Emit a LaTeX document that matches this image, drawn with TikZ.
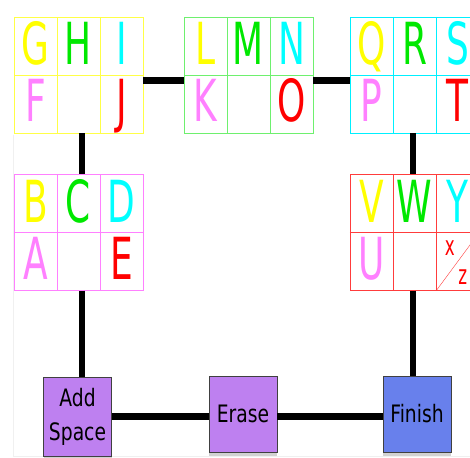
\documentclass[tikz,border=0pt]{standalone}
\usepackage{fontspec}
\newfontfamily\keyfont[FakeStretch=0.62]{DejaVu Sans}
\newfontfamily\labelfont[FakeStretch=0.78]{DejaVu Sans}
\usetikzlibrary{calc, shadows}
\definecolor{keyyellow}{RGB}{255,255,0}
\definecolor{keygreen}{RGB}{0,232,0}
\definecolor{keycyan}{RGB}{0,255,255}
\definecolor{keypink}{RGB}{255,128,255}
\definecolor{keyred}{RGB}{255,0,0}
\definecolor{edgeyellow}{RGB}{255,255,70}
\definecolor{edgegreen}{RGB}{110,240,110}
\definecolor{edgecyan}{RGB}{0,240,255}
\definecolor{edgepink}{RGB}{255,128,255}
\definecolor{edgered}{RGB}{255,60,60}
\definecolor{btnpurple}{RGB}{190,128,240}
\definecolor{btnblue}{RGB}{104,128,236}

% one 3x2 letter block: name, centre, edge colour, top row, bottom left/right
\newcommand{\keygrid}[8]{%
  \node[grid, draw=#3] (#1) at (#2) {};
  \draw[#3] ($(#1.north west)!1/3!(#1.north east)$) -- ($(#1.south west)!1/3!(#1.south east)$);
  \draw[#3] ($(#1.north west)!2/3!(#1.north east)$) -- ($(#1.south west)!2/3!(#1.south east)$);
  \draw[#3] (#1.west) -- (#1.east);
  \node[key, text=keyyellow] (#1-a) at ($(#1)+(-43,-10)$) {#4};
  \node[key, text=keygreen] (#1-b) at ($(#1)+(0,-10)$) {#5};
  \node[key, text=keycyan] (#1-c) at ($(#1)+(43,-10)$) {#6};
  \node[key, text=keypink] (#1-d) at ($(#1)+(-43,47)$) {#7};
  \node[key, text=keyred] (#1-e) at ($(#1)+(43,47)$) {#8};
}

\begin{document}
\begin{tikzpicture}[
  x=1pt, y=-1pt,
  grid/.style={minimum width=129pt, minimum height=116pt, inner sep=0pt},
  key/.style={anchor=base, inner sep=0pt, font=\keyfont\fontsize{58}{60}\selectfont},
  small/.style={inner sep=0pt, text=keyred, font=\keyfont\fontsize{27}{28}\selectfont},
  wire/.style={line width=6.5pt, black},
  button/.style={draw=black!75, fill=btnpurple, minimum width=68pt, minimum height=76pt,
    inner sep=0pt, align=center, font=\labelfont\fontsize{24}{34}\selectfont,
    drop shadow={shadow xshift=0pt, shadow yshift=-4pt, fill=gray!70}}
]
\useasboundingbox (0,0) rectangle (470,457);
\clip (0,0) rectangle (470,457);
\fill[white] (0,0) rectangle (470,457);
\draw[gray!12, line width=1pt] (13,135) -- (13,456) -- (470,456);

\keygrid{ghi}{78.5,75}{edgeyellow}{G}{H}{I}{F}{J}
\keygrid{lmn}{248.5,75}{edgegreen}{L}{M}{N}{K}{O}
\keygrid{qrs}{414.5,75}{edgecyan}{Q}{R}{S}{P}{T}
\keygrid{bcd}{78.5,232.5}{edgepink}{B}{C}{D}{A}{E}
\keygrid{vwy}{414.5,232.5}{edgered}{V}{W}{Y}{U}{}
\draw[edgered] ($(vwy.south east)+(-43,0)$) -- (vwy.east);
\node[small] (vwy-x) at ($(vwy.east)+(-29.5,15.5)$) {x};
\node[small] (vwy-z) at ($(vwy.east)+(-16.5,45)$) {z};

\node[button, minimum height=79pt] (addspace) at (77.5,416.5) {Add\\Space};
\node[button] (erase) at (243,414) {Erase};
\node[button, fill=btnblue] (finish) at (417,414) {Finish};

\draw[wire] ([yshift=-5.5pt]ghi.east) -- ([yshift=-5.5pt]lmn.west);
\draw[wire] ([yshift=-5.5pt]lmn.east) -- ([yshift=-5.5pt]qrs.west);
\draw[wire] ([xshift=3.5pt]ghi.south) -- ([xshift=3.5pt]bcd.north);
\draw[wire] ([xshift=3.5pt]bcd.south) -- ([xshift=3.5pt]bcd.south |- addspace.north);
\draw[wire] ([xshift=-1.5pt]qrs.south) -- ([xshift=-1.5pt]vwy.north);
\draw[wire] ([xshift=-1.5pt]vwy.south) -- ([xshift=-1.5pt]vwy.south |- finish.north);
\draw[wire] (addspace.east) -- (addspace.east -| erase.west);
\draw[wire] (erase.east |- addspace.east) -- (addspace.east -| finish.west);
\end{tikzpicture}
\end{document}
